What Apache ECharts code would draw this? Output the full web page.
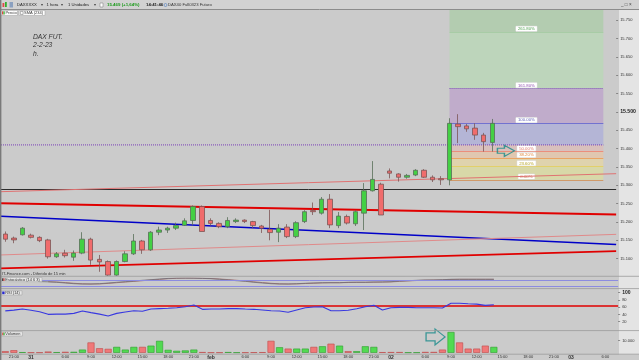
<!DOCTYPE html>
<html><head><meta charset="utf-8">
<script src="https://cdn.jsdelivr.net/npm/echarts@6/dist/echarts.min.js"></script>
<style>html,body{margin:0;padding:0;background:#cbcbcb;}#c{width:639px;height:360px;}</style>
</head><body><div id="c"></div>
<script>
// ---------- time slots (hourly candles) ----------
const firstDayHours = [20, 21, 22];
const sessionHours = [2,3,4,5,6,7,8,9,10,11,12,13,14,15,16,17,18,19,20,21,22];
const fullDays = ['31', '01', '02'];
const lastDayHours = [2, 3, 4, 5, 6, 7];
const dayTags = { '31': '31', '01': 'feb', '02': '02', '03': '03' };
const labelHours = [6, 9, 12, 15, 18, 21];
const categories = [];
firstDayHours.forEach(h => categories.push('30 ' + h));
fullDays.forEach(d => sessionHours.forEach(h => categories.push(d + ' ' + h)));
lastDayHours.forEach(h => categories.push('03 ' + h));

// ---------- price candles [open, close, low, high] ----------
const ohlc = [
 [15167,15153,15146,15174],[15156,15151,15142,15160],[15165,15183,15163,15186],
 [15164,15158,15155,15168],[15158,15149,15145,15161],[15151,15105,15100,15154],
 [15105,15113,15102,15118],[15115,15108,15103,15124],[15104,15115,15094,15122],
 [15115,15153,15112,15172],[15153,15096,15083,15157],[15098,15091,15064,15110],
 [15092,15055,15053,15095],[15055,15092,15053,15095],[15092,15113,15090,15120],
 [15113,15148,15110,15167],[15148,15124,15113,15151],[15124,15172,15121,15175],
 [15172,15178,15164,15187],[15178,15183,15170,15187],[15183,15190,15178,15198],
 [15191,15203,15189,15210],[15204,15242,15191,15245],[15242,15174,15174,15245],
 [15204,15196,15190,15210],[15196,15187,15183,15199],[15187,15204,15183,15213],
 [15201,15205,15197,15210],[15205,15201,15197,15207],[15201,15190,15183,15203],
 [15189,15183,15170,15192],[15180,15171,15150,15233],[15172,15183,15145,15194],
 [15186,15160,15156,15194],[15160,15198,15156,15202],[15201,15228,15197,15232],
 [15231,15228,15219,15253],[15224,15262,15220,15268],[15262,15192,15183,15276],
 [15190,15216,15183,15227],[15215,15197,15193,15220],[15195,15228,15189,15232],
 [15224,15285,15178,15306],[15285,15316,15283,15366],[15303,15219,15219,15307],
 [15339,15333,15319,15346],[15331,15322,15310,15333],[15322,15327,15318,15331],
 [15328,15341,15325,15344],[15341,15322,15320,15344],[15322,15315,15309,15327],
 [15318,15315,15301,15325],[15315,15469,15300,15483],[15467,15460,15415,15494],
 [15462,15454,15446,15467],[15456,15437,15424,15469],[15437,15419,15392,15443],
 [15417,15469,15392,15481]
];
const volume = [
 1300,2100,500,300,300,1000,500,800,800,2600,8400,3700,3200,4800,2600,4800,4800,5800,9700,2400,1600,
 1900,2600,600,300,300,600,300,300,400,500,9700,4500,3400,3400,3400,4800,5300,7400,5800,1300,1300,
 5300,4800,500,600,600,300,300,700,700,2600,16900,8400,3400,3400,5800,4800
];
const rsi = [
 50,52,55,51.5,47.6,40.4,41,41,43,49.5,45,41,35.7,43,46.7,50.3,48.7,55,56,57,58.6,61.4,66,54.2,
 55,55,56,56,55,54.2,52.3,50.3,49.5,46,52.3,58.6,60.5,61.4,50.3,50.3,51.5,56,61.4,65.2,52.3,
 58.6,59.6,59.6,58.6,58.6,58.6,57.8,70.8,71,69.5,68.6,65.2,67
];
const stochK = [
 null,null,null,null,64,62,57,50,43,40,40,43,50,57,63,70,77,83,90,96,99,99,98,96,93,87,80,73,67,57,
 50,43,40,40,43,47,50,53,53,53,57,57,57,60,60,63,70,73,77,80,80,83,87,87,87,87,87,87
];
const stochD = [
 null,null,null,null,null,63,60,54,47,42,40,41,46,53,60,66,73,80,86,93,97,99,99,97,95,90,84,77,70,62,
 54,47,42,40,41,45,48,51,53,53,55,57,57,58,60,61,66,71,75,78,80,81,85,87,87,87,87,87
];

// ---------- drawn lines (price at left edge / right edge) ----------
const trendLines = [
 { from: 15282.6, to: 15331.7, color: '#e07272', width: 1 },   // SMA (234)
 { from: 15251.0, to: 15220.4, color: '#e00000', width: 1.8 },
 { from: 15215.8, to: 15138.3, color: '#0000c8', width: 1.5 },
 { from: 15110.0, to: 15166.2, color: '#e08a8a', width: 1 },
 { from: 15073.2, to: 15120.3, color: '#e00000', width: 1.8 }
];
const flatLine = 15289;
const lastPrice = 15469;
const rsiLine = 63.3;

// ---------- Fibonacci tool ----------
const fibLow = 15315, fibHigh = 15469;
const fibStart = '02 9', fibEnd = '03 6';
const fibRatios = [0, 23.6, 38.2, 50, 61.8, 100, 161.8, 261.8];
const fibTexts = ['0.00%','23.60%','38.20%','50.00%','61.80%','100.00%','161.80%','261.80%'];
const fibZoneColors = ['#d8d8a8','#dfd3ad','#e0c7b0','#d8c0bd','#b4b5d6','#c0accb','#bdd5bb','#b3ccb0'];
const fibLineColors = ['#d09a6a','#e2d06a','#eaa464','#eb8e7c','#7a3fb8','#7272d0','#7a3fb8','#a8cca6'];
const fibLineTypes = ['solid','solid','solid','solid','dotted','solid','dotted','solid'];
const fibTextColors = ['#c07a50','#b4a020','#e08a40','#e07868','#5060c8','#6060b8','#9050b0','#50a050'];
const fibLevel = r => fibLow + (fibHigh - fibLow) * r / 100;

const priceMin = 15050, priceMax = 15780;
const N = categories.length;
const SLOT = 8.5714;
const W = SLOT * N;
const FONT = 'Liberation Sans';

const zones = fibRatios.map((r, i) => {
  const lo = fibLevel(r);
  const hi = i < fibRatios.length - 1 ? fibLevel(fibRatios[i + 1]) : priceMax;
  return [{ coord: [fibStart, lo], itemStyle: { color: fibZoneColors[i] } }, { coord: [fibEnd, hi] }];
});
const fibLines = fibRatios.map((r, i) => [
  { coord: [fibStart, fibLevel(r)],
    lineStyle: { color: fibLineColors[i], type: fibLineTypes[i], width: 1, opacity: r === 61.8 ? 0 : 1 },
    label: { show: true, position: 'middle', formatter: fibTexts[i], color: fibTextColors[i], fontSize: 4.3,
             fontFamily: FONT, backgroundColor: '#ffffff', borderColor: '#d8d8d8', borderWidth: 0.5,
             padding: [0.6, 2, 0.3, 2], distance: 0.8 } },
  { coord: [fibEnd, fibLevel(r)] }
]);

function valueBox(value, text, bg, fg, border) {
  return { yAxis: value, lineStyle: { opacity: 0 },
    label: { show: true, position: 'end', formatter: text, backgroundColor: bg, color: fg, borderColor: border,
             borderWidth: 0.5, fontSize: 4.2, fontFamily: FONT, padding: [0.8, 1.2, 0.5, 1.2], distance: 1.5 } };
}

const volColors = ohlc.map(c => c[1] >= c[0]);
const arrowPrice = 'path://M0,3 L7,3 L7,0 L17,5.5 L7,11 L7,8 L0,8 Z';
const arrowVol = 'path://M0,4 L9,4 L9,0 L19,8 L9,16 L9,12 L0,12 Z';

const hiddenCat = gi => ({ type: 'category', gridIndex: gi, data: categories, boundaryGap: true, show: false });
const gridOpt = (top, height) => ({ left: 1, width: W, top: top, height: height });
const txt = (x, y, text, size, color, extra) => Object.assign({ type: 'text', x: x, y: y, z: 50,
  style: Object.assign({ text: text, fontSize: size, fontFamily: FONT, fill: color, verticalAlign: 'middle' }, extra || {}) });
const rect = (x, y, w, h, fill, stroke, z) => ({ type: 'rect', z: z === undefined ? 50 : z, shape: { x: x, y: y, width: w, height: h },
  style: { fill: fill, stroke: stroke || null, lineWidth: stroke ? 0.6 : 0 } });
const hline = (y, color, w) => ({ type: 'line', z: 60, shape: { x1: 0, y1: y, x2: 639, y2: y }, style: { stroke: color, lineWidth: w || 1 } });

const rightAxisLine = { show: false, onZero: false };

const chart = echarts.init(document.getElementById('c'));
chart.setOption({
  animation: false,
  backgroundColor: '#cbcbcb',
  grid: [gridOpt(9.34, 267.6), gridOpt(278, 10), gridOpt(292.7, 36.3), gridOpt(331, 22.3)],
  xAxis: [
    hiddenCat(0), hiddenCat(1), hiddenCat(2),
    { type: 'category', gridIndex: 3, data: categories, boundaryGap: true,
      axisLine: { show: false, onZero: false }, axisTick: { show: false },
      axisLabel: {
        margin: 2.2, fontSize: 4, fontFamily: FONT, color: '#333',
        interval: (i, v) => { const [d, h] = v.split(' '); const hr = +h;
          return labelHours.indexOf(hr) >= 0 || (hr === 2 && dayTags[d] !== undefined); },
        formatter: v => { const [d, h] = v.split(' '); const hr = +h;
          if (hr === 2 && dayTags[d]) return '{d|' + dayTags[d] + '}';
          return hr + ':00'; },
        rich: { d: { fontSize: 5, fontWeight: 'bold', fontFamily: FONT, color: '#333' } }
      } },
    { type: 'value', gridIndex: 0, min: -0.5, max: N - 0.5, show: false, axisLine: { onZero: false } },
    { type: 'value', gridIndex: 3, min: -0.5, max: N - 0.5, show: false, axisLine: { onZero: false } }
  ],
  yAxis: [
    { type: 'value', gridIndex: 0, position: 'right', min: priceMin, max: priceMax, interval: 50,
      splitLine: { show: false }, axisLine: rightAxisLine,
      axisTick: { show: true, length: 2, lineStyle: { color: '#555', width: 0.6 } },
      axisLabel: { show: true, margin: 4, fontSize: 4, fontFamily: FONT, color: '#333', showMinLabel: false, showMaxLabel: false,
        formatter: v => v === 15500 ? '{b|15.500}' : (v / 1000).toFixed(3),
        rich: { b: { fontSize: 5.2, fontWeight: 'bold', fontFamily: FONT, color: '#222' } } } },
    { type: 'value', gridIndex: 1, position: 'right', min: 0, max: 100, show: false, axisLine: rightAxisLine },
    { type: 'value', gridIndex: 2, position: 'right', min: 0, max: 100, interval: 20,
      splitLine: { show: false }, axisLine: rightAxisLine,
      axisTick: { show: true, length: 2, lineStyle: { color: '#555', width: 0.6 } },
      axisLabel: { margin: 4, fontSize: 4, fontFamily: FONT, color: '#333', showMinLabel: false,
        formatter: v => v === 100 ? '{b|100}' : String(v),
        rich: { b: { fontSize: 5, fontWeight: 'bold', fontFamily: FONT, color: '#222' } } } },
    { type: 'value', gridIndex: 3, position: 'right', min: 0, max: 17700, interval: 10000,
      splitLine: { show: false }, axisLine: rightAxisLine,
      axisTick: { show: true, length: 2, lineStyle: { color: '#555', width: 0.6 } },
      axisLabel: { margin: 4, fontSize: 4, fontFamily: FONT, color: '#333', showMinLabel: false, showMaxLabel: false,
        formatter: v => v === 0 ? '' : (v / 1000).toFixed(3) } }
  ],
  series: [
    { type: 'candlestick', name: 'Precio', xAxisIndex: 0, yAxisIndex: 0, data: ohlc, barWidth: 5, z: 5,
      itemStyle: { color: '#44d044', color0: '#f06c6c', borderColor: '#586e58', borderColor0: '#7c5656', borderWidth: 0.8 },
      markArea: { silent: true, z: 1, data: zones },
      markLine: { silent: true, symbol: ['none', 'none'], z: 2,
        data: fibLines.concat([
          { yAxis: flatLine, lineStyle: { color: '#2e2e2e', width: 1, type: 'solid' }, label: { show: false } },
          valueBox(lastPrice, '15.469', '#f0e03a', '#333', '#b0a020')
        ]) } },
    ...trendLines.map(t => ({ type: 'line', xAxisIndex: 4, yAxisIndex: 0, data: [[-0.5, t.from], [N - 0.5, t.to]],
      symbol: 'none', silent: true, z: 4, lineStyle: { color: t.color, width: t.width } })),
    { type: 'line', xAxisIndex: 4, yAxisIndex: 0, data: [[-0.5, fibLevel(61.8)], [70, fibLevel(61.8)]],
      symbol: 'none', silent: true, z: 4, lineStyle: { color: '#7a3fb8', width: 1, type: 'dotted' } },
    { type: 'scatter', xAxisIndex: 4, yAxisIndex: 0, data: [[58.6, 15394]], symbol: arrowPrice, symbolSize: [17, 11], z: 8,
      itemStyle: { color: 'rgba(0,0,0,0)', borderColor: '#178a8a', borderWidth: 1.2 } },
    { type: 'line', xAxisIndex: 1, yAxisIndex: 1, data: stochD, symbol: 'none', z: 3,
      lineStyle: { color: '#a87878', width: 1 },
      markLine: { silent: true, symbol: ['none', 'none'],
        data: [ { yAxis: 80, lineStyle: { color: '#8c8ce0', width: 1, type: 'solid' }, label: { show: false } },
                { yAxis: 20, lineStyle: { color: '#8c8ce0', width: 1, type: 'solid' }, label: { show: false } },
                valueBox(97, '86.905', '#dcdcdc', '#444', '#999'),
                valueBox(53, '83.026', '#f2caca', '#c83030', '#d09090') ] } },
    { type: 'line', xAxisIndex: 1, yAxisIndex: 1, data: stochK, symbol: 'none', z: 4,
      lineStyle: { color: '#6e6e78', width: 0.8 } },
    { type: 'line', xAxisIndex: 2, yAxisIndex: 2, data: rsi, symbol: 'none', z: 6,
      lineStyle: { color: '#3838e0', width: 1.1 },
      markLine: { silent: true, symbol: ['none', 'none'], z: 3,
        data: [ { yAxis: rsiLine, lineStyle: { color: '#e00000', width: 1.5, type: 'solid' }, label: { show: false } },
                valueBox(68, '67.018', '#c8c8f0', '#3030c0', '#8080d0') ] } },
    { type: 'bar', xAxisIndex: 3, yAxisIndex: 3, barWidth: 7, z: 4,
      data: volume.map((v, i) => ({ value: v, itemStyle: volColors[i]
        ? { color: '#52da52', borderColor: '#2e9e2e', borderWidth: 0.6 }
        : { color: '#f07878', borderColor: '#c04a4a', borderWidth: 0.6 } })),
      markLine: { silent: true, symbol: ['none', 'none'], data: [ valueBox(6000, '4.815', '#c6eec6', '#208020', '#70b070') ] } },
    { type: 'scatter', xAxisIndex: 5, yAxisIndex: 3, data: [[50.2, 12900]], symbol: arrowVol, symbolSize: [19, 16], z: 8,
      itemStyle: { color: 'rgba(0,0,0,0)', borderColor: '#178a8a', borderWidth: 1.2 } }
  ],
  graphic: [
    rect(619, 9.5, 20, 345, '#e4e4e4', null, -1),
    rect(0, 0, 639, 9.5, '#d2d2d2', null, 40),
    hline(9.5, '#8c8c8c', 1),
    hline(276.3, '#9a9a9a', 0.8),
    hline(288.6, '#9a9a9a', 0.8),
    hline(330.6, '#9a9a9a', 0.8),
    hline(354.2, '#9a9a9a', 0.8),
    rect(0, 0, 1.4, 360, '#7a7a7a', null, 70),
    // toolbar
    rect(2.5, 3, 1.8, 4, '#e04848'), rect(5, 2, 1.8, 5, '#30b030'),
    rect(9.5, 2, 3.5, 5.5, '#8aa0c0'),
    txt(17, 5, 'DAXXXXX', 4.2, '#222'), txt(41, 5, '▾', 4, '#444'),
    txt(46.5, 5, '1 hora', 4.2, '#222'), txt(61, 5, '▾', 4, '#444'),
    txt(68, 5, '1 Unidades', 4.2, '#222'), txt(94, 5, '▾', 4, '#444'),
    rect(100, 3, 3, 4, '#ffffff', '#888'),
    txt(107, 5, '15.469 (+1,64%)', 4.4, '#1a9a1a', { fontWeight: 'bold' }),
    txt(146, 5, '14:41:46', 4.3, '#222', { fontWeight: 'bold' }),
    { type: 'circle', z: 50, shape: { cx: 165.5, cy: 5, r: 1.5 }, style: { fill: 'none', stroke: '#4a7ac0', lineWidth: 0.6 } },
    txt(168, 5, 'DAX40 Full0323 Futuro', 4.2, '#333'),
    txt(621, 5, '_ □ ×', 4.6, '#444'),
    // legend row
    rect(1, 10.4, 16.5, 5, '#ffffff', '#aaaaaa'),
    rect(2, 11.3, 1.3, 3.2, '#e04848'), rect(3.4, 11.3, 1.3, 3.2, '#30b030'),
    txt(5.4, 12.9, 'Precio', 4, '#333'),
    rect(19, 10.4, 26, 5, '#ffffff', '#aaaaaa'),
    rect(20.3, 11.4, 2.8, 3, '#ffffff', '#777777'),
    txt(24, 12.9, 'SMA (234)', 4, '#333'),
    // notes
    txt(33, 37, 'DAX FUT.', 6.7, '#333', { fontStyle: 'italic' }),
    txt(33, 45.5, '2-2-23', 6.7, '#333', { fontStyle: 'italic' }),
    txt(33, 54, 'h.', 6.7, '#333', { fontStyle: 'italic' }),
    // panel captions
    txt(2, 273.4, 'IT-Finance.com - Diferido de 15 min', 4, '#333'),
    rect(1.5, 277.4, 40.5, 4.3, '#e6e6e6', '#aaaaaa'),
    rect(2.2, 278.2, 1.2, 2.7, '#222'), rect(3.4, 278.2, 1.2, 2.7, '#d04040'),
    txt(5.3, 279.6, 'Estocástico (14 6 3)', 3.9, '#333'),
    rect(1.5, 290.7, 20.5, 4.3, '#e6e6e6', '#aaaaaa'),
    rect(2.2, 291.5, 2.4, 2.7, '#2828d0'),
    txt(5.3, 292.9, 'RSI (14)', 3.9, '#333'),
    rect(1.5, 331.7, 21, 4.3, '#e6e6e6', '#aaaaaa'),
    rect(2.2, 332.5, 1.2, 2.7, '#e04848'), rect(3.4, 332.5, 1.2, 2.7, '#30b030'),
    txt(5.3, 333.9, 'Volumen', 3.9, '#333')
  ]
});
</script>
</body></html>
